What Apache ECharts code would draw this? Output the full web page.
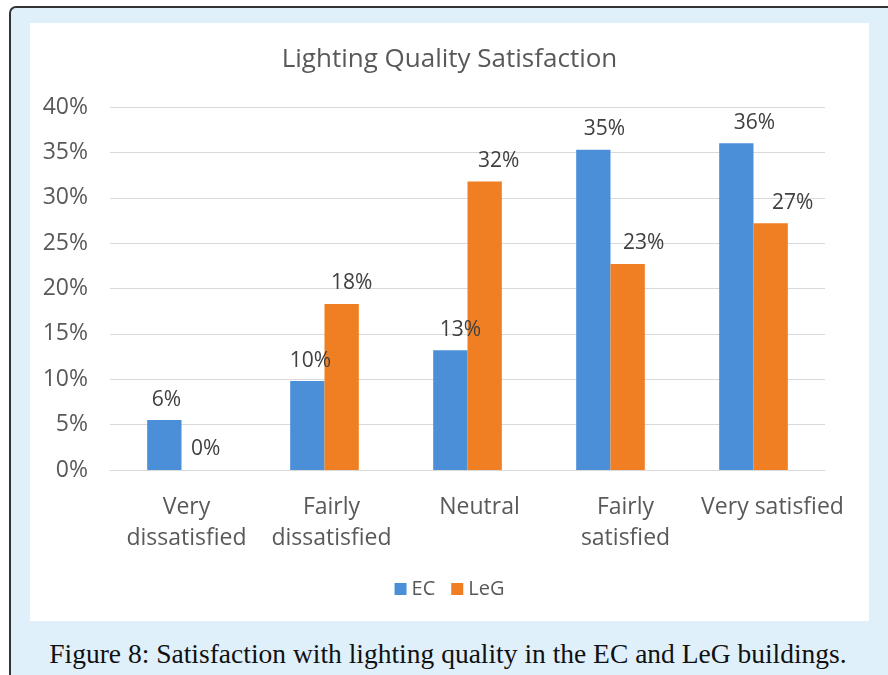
<!DOCTYPE html>
<html>
<head>
<meta charset="utf-8">
<script src="https://cdn.jsdelivr.net/npm/echarts@6/dist/echarts.min.js"></script>
<style>
  html, body { margin: 0; padding: 0; background: #fff; }
  .frame {
    position: absolute; left: 9px; top: 6px; width: 900px; height: 700px;
    background: #dff0fb; border: 2px solid #333; border-radius: 7px 0 0 0;
    box-sizing: border-box;
  }
  .chart { position: absolute; left: 30px; top: 23px; width: 839px; height: 598px; background: #fff; }
  .caption {
    position: absolute; left: 0; top: 638px; width: 896px; text-align: center;
    font-family: "Liberation Serif", serif; font-size: 27.5px; color: #111;
  }
</style>
</head>
<body>
<div class="frame"></div>
<div class="chart" id="main"></div>
<div class="caption">Figure 8: Satisfaction with lighting quality in the EC and LeG buildings.</div>
<script>
const categories = ["Very\ndissatisfied", "Fairly\ndissatisfied", "Neutral", "Fairly\nsatisfied", "Very satisfied"];
const ecValues = [5.5, 9.8, 13.2, 35.3, 36.0];
const legValues = [0, 18.3, 31.8, 22.7, 27.2];
const yTicks = [0, 5, 10, 15, 20, 25, 30, 35, 40];

// the source picture's text sits a little right of the bars, more so further right
const catLabelShift = [5, 7, 12, 15, 19];
const ecLabelShift = [2, 3, 10, 11, 18];
const legLabelShift = [7, 10, 14, 16, 22];

const font = "'Open Sans', sans-serif";
const chart = echarts.init(document.getElementById("main"));
const labelStyle = {
  show: true, position: "top", distance: 10,
  fontFamily: font, fontSize: 21, color: "#404040",
  formatter: p => Math.round(p.value) + "%"
};
chart.setOption({
  animation: false,
  title: {
    text: "Lighting Quality Satisfaction", left: "center", top: 19,
    textStyle: { fontFamily: font, fontSize: 26, fontWeight: "normal", color: "#595959" }
  },
  legend: {
    bottom: 17, left: "center", itemWidth: 12, itemHeight: 12, itemGap: 16,
    icon: "rect",
    textStyle: { fontFamily: font, fontSize: 20, color: "#595959" },
    data: ["EC", "LeG"]
  },
  grid: { left: 80, right: 44, top: 84, bottom: 151 },
  xAxis: {
    type: "category",
    data: categories.map((c, i) => ({ value: c, textStyle: { padding: [0, 0, 0, 2 * catLabelShift[i]] } })),
    axisLine: { show: true, lineStyle: { color: "#d9d9d9" } },
    axisTick: { show: false },
    axisLabel: { fontFamily: font, fontSize: 23, color: "#595959", margin: 22, lineHeight: 31, interval: 0 }
  },
  yAxis: {
    type: "value", min: yTicks[0], max: yTicks[yTicks.length - 1], interval: 5,
    axisLine: { show: false }, axisTick: { show: false },
    splitLine: { lineStyle: { color: "#d9d9d9" } },
    axisLabel: { fontFamily: font, fontSize: 23, color: "#595959", margin: 22, formatter: v => v + "%" }
  },
  series: [
    { name: "EC", type: "bar", barGap: "0%", barCategoryGap: "52%",
      data: ecValues.map((v, i) => ({ value: v, label: { offset: [ecLabelShift[i], 0] } })),
      itemStyle: { color: "#4a8fd8" }, label: labelStyle },
    { name: "LeG", type: "bar",
      data: legValues.map((v, i) => ({ value: v, label: { offset: [legLabelShift[i], 0] } })),
      itemStyle: { color: "#f07e22" }, label: labelStyle }
  ]
});
</script>
</body>
</html>
